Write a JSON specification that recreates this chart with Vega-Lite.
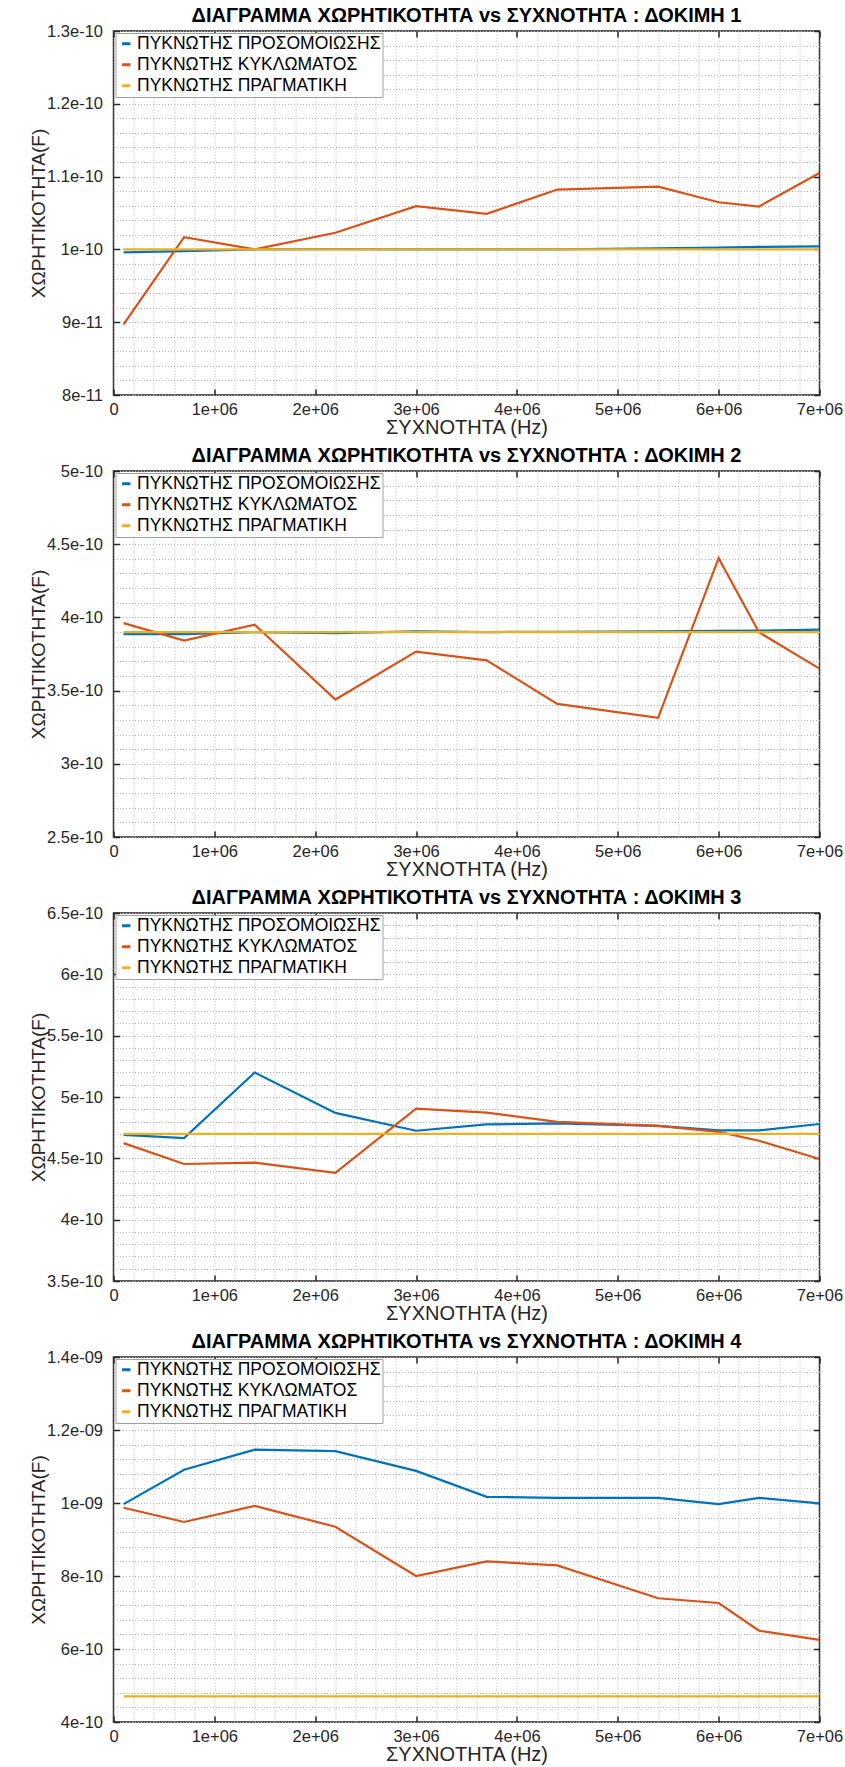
{
  "$schema": "https://vega.github.io/schema/vega-lite/v6.json",
  "padding": {"left": 28.5, "top": 4, "right": 5, "bottom": 1},
  "spacing": 5,
  "resolve": {"scale": {"color": "independent"}},
  "datasets": {
    "d1": [
      {"f": 100000, "c": 9.96e-11, "s": "ΠΥΚΝΩΤΗΣ ΠΡΟΣΟΜΟΙΩΣΗΣ"},
      {"f": 700000, "c": 9.975e-11, "s": "ΠΥΚΝΩΤΗΣ ΠΡΟΣΟΜΟΙΩΣΗΣ"},
      {"f": 1400000, "c": 1.0e-10, "s": "ΠΥΚΝΩΤΗΣ ΠΡΟΣΟΜΟΙΩΣΗΣ"},
      {"f": 2200000, "c": 1.0005e-10, "s": "ΠΥΚΝΩΤΗΣ ΠΡΟΣΟΜΟΙΩΣΗΣ"},
      {"f": 3000000, "c": 1.0e-10, "s": "ΠΥΚΝΩΤΗΣ ΠΡΟΣΟΜΟΙΩΣΗΣ"},
      {"f": 3700000, "c": 1.0e-10, "s": "ΠΥΚΝΩΤΗΣ ΠΡΟΣΟΜΟΙΩΣΗΣ"},
      {"f": 4400000, "c": 1.0e-10, "s": "ΠΥΚΝΩΤΗΣ ΠΡΟΣΟΜΟΙΩΣΗΣ"},
      {"f": 5400000, "c": 1.0015e-10, "s": "ΠΥΚΝΩΤΗΣ ΠΡΟΣΟΜΟΙΩΣΗΣ"},
      {"f": 6000000, "c": 1.0025e-10, "s": "ΠΥΚΝΩΤΗΣ ΠΡΟΣΟΜΟΙΩΣΗΣ"},
      {"f": 6400000, "c": 1.0035e-10, "s": "ΠΥΚΝΩΤΗΣ ΠΡΟΣΟΜΟΙΩΣΗΣ"},
      {"f": 7000000, "c": 1.0042e-10, "s": "ΠΥΚΝΩΤΗΣ ΠΡΟΣΟΜΟΙΩΣΗΣ"},
      {"f": 100000, "c": 8.97e-11, "s": "ΠΥΚΝΩΤΗΣ ΚΥΚΛΩΜΑΤΟΣ"},
      {"f": 700000, "c": 1.0169e-10, "s": "ΠΥΚΝΩΤΗΣ ΚΥΚΛΩΜΑΤΟΣ"},
      {"f": 1400000, "c": 1.0e-10, "s": "ΠΥΚΝΩΤΗΣ ΚΥΚΛΩΜΑΤΟΣ"},
      {"f": 2200000, "c": 1.0228e-10, "s": "ΠΥΚΝΩΤΗΣ ΚΥΚΛΩΜΑΤΟΣ"},
      {"f": 3000000, "c": 1.0594e-10, "s": "ΠΥΚΝΩΤΗΣ ΚΥΚΛΩΜΑΤΟΣ"},
      {"f": 3700000, "c": 1.0489e-10, "s": "ΠΥΚΝΩΤΗΣ ΚΥΚΛΩΜΑΤΟΣ"},
      {"f": 4400000, "c": 1.0822e-10, "s": "ΠΥΚΝΩΤΗΣ ΚΥΚΛΩΜΑΤΟΣ"},
      {"f": 5400000, "c": 1.0863e-10, "s": "ΠΥΚΝΩΤΗΣ ΚΥΚΛΩΜΑΤΟΣ"},
      {"f": 6000000, "c": 1.0648e-10, "s": "ΠΥΚΝΩΤΗΣ ΚΥΚΛΩΜΑΤΟΣ"},
      {"f": 6400000, "c": 1.0589e-10, "s": "ΠΥΚΝΩΤΗΣ ΚΥΚΛΩΜΑΤΟΣ"},
      {"f": 7000000, "c": 1.105e-10, "s": "ΠΥΚΝΩΤΗΣ ΚΥΚΛΩΜΑΤΟΣ"},
      {"f": 100000, "c": 1.0e-10, "s": "ΠΥΚΝΩΤΗΣ ΠΡΑΓΜΑΤΙΚΗ"},
      {"f": 700000, "c": 1.0e-10, "s": "ΠΥΚΝΩΤΗΣ ΠΡΑΓΜΑΤΙΚΗ"},
      {"f": 1400000, "c": 1.0e-10, "s": "ΠΥΚΝΩΤΗΣ ΠΡΑΓΜΑΤΙΚΗ"},
      {"f": 2200000, "c": 1.0e-10, "s": "ΠΥΚΝΩΤΗΣ ΠΡΑΓΜΑΤΙΚΗ"},
      {"f": 3000000, "c": 1.0e-10, "s": "ΠΥΚΝΩΤΗΣ ΠΡΑΓΜΑΤΙΚΗ"},
      {"f": 3700000, "c": 1.0e-10, "s": "ΠΥΚΝΩΤΗΣ ΠΡΑΓΜΑΤΙΚΗ"},
      {"f": 4400000, "c": 1.0e-10, "s": "ΠΥΚΝΩΤΗΣ ΠΡΑΓΜΑΤΙΚΗ"},
      {"f": 5400000, "c": 1.0e-10, "s": "ΠΥΚΝΩΤΗΣ ΠΡΑΓΜΑΤΙΚΗ"},
      {"f": 6000000, "c": 1.0e-10, "s": "ΠΥΚΝΩΤΗΣ ΠΡΑΓΜΑΤΙΚΗ"},
      {"f": 6400000, "c": 1.0e-10, "s": "ΠΥΚΝΩΤΗΣ ΠΡΑΓΜΑΤΙΚΗ"},
      {"f": 7000000, "c": 1.0e-10, "s": "ΠΥΚΝΩΤΗΣ ΠΡΑΓΜΑΤΙΚΗ"}
    ],
    "d2": [
      {"f": 100000, "c": 3.886e-10, "s": "ΠΥΚΝΩΤΗΣ ΠΡΟΣΟΜΟΙΩΣΗΣ"},
      {"f": 700000, "c": 3.886e-10, "s": "ΠΥΚΝΩΤΗΣ ΠΡΟΣΟΜΟΙΩΣΗΣ"},
      {"f": 1400000, "c": 3.9e-10, "s": "ΠΥΚΝΩΤΗΣ ΠΡΟΣΟΜΟΙΩΣΗΣ"},
      {"f": 2200000, "c": 3.893e-10, "s": "ΠΥΚΝΩΤΗΣ ΠΡΟΣΟΜΟΙΩΣΗΣ"},
      {"f": 3000000, "c": 3.905e-10, "s": "ΠΥΚΝΩΤΗΣ ΠΡΟΣΟΜΟΙΩΣΗΣ"},
      {"f": 3700000, "c": 3.9e-10, "s": "ΠΥΚΝΩΤΗΣ ΠΡΟΣΟΜΟΙΩΣΗΣ"},
      {"f": 4400000, "c": 3.902e-10, "s": "ΠΥΚΝΩΤΗΣ ΠΡΟΣΟΜΟΙΩΣΗΣ"},
      {"f": 5400000, "c": 3.905e-10, "s": "ΠΥΚΝΩΤΗΣ ΠΡΟΣΟΜΟΙΩΣΗΣ"},
      {"f": 6000000, "c": 3.908e-10, "s": "ΠΥΚΝΩΤΗΣ ΠΡΟΣΟΜΟΙΩΣΗΣ"},
      {"f": 6400000, "c": 3.91e-10, "s": "ΠΥΚΝΩΤΗΣ ΠΡΟΣΟΜΟΙΩΣΗΣ"},
      {"f": 7000000, "c": 3.916e-10, "s": "ΠΥΚΝΩΤΗΣ ΠΡΟΣΟΜΟΙΩΣΗΣ"},
      {"f": 100000, "c": 3.961e-10, "s": "ΠΥΚΝΩΤΗΣ ΚΥΚΛΩΜΑΤΟΣ"},
      {"f": 700000, "c": 3.841e-10, "s": "ΠΥΚΝΩΤΗΣ ΚΥΚΛΩΜΑΤΟΣ"},
      {"f": 1400000, "c": 3.95e-10, "s": "ΠΥΚΝΩΤΗΣ ΚΥΚΛΩΜΑΤΟΣ"},
      {"f": 2200000, "c": 3.439e-10, "s": "ΠΥΚΝΩΤΗΣ ΚΥΚΛΩΜΑΤΟΣ"},
      {"f": 3000000, "c": 3.766e-10, "s": "ΠΥΚΝΩΤΗΣ ΚΥΚΛΩΜΑΤΟΣ"},
      {"f": 3700000, "c": 3.707e-10, "s": "ΠΥΚΝΩΤΗΣ ΚΥΚΛΩΜΑΤΟΣ"},
      {"f": 4400000, "c": 3.409e-10, "s": "ΠΥΚΝΩΤΗΣ ΚΥΚΛΩΜΑΤΟΣ"},
      {"f": 5400000, "c": 3.314e-10, "s": "ΠΥΚΝΩΤΗΣ ΚΥΚΛΩΜΑΤΟΣ"},
      {"f": 6000000, "c": 4.405e-10, "s": "ΠΥΚΝΩΤΗΣ ΚΥΚΛΩΜΑΤΟΣ"},
      {"f": 6400000, "c": 3.898e-10, "s": "ΠΥΚΝΩΤΗΣ ΚΥΚΛΩΜΑΤΟΣ"},
      {"f": 7000000, "c": 3.65e-10, "s": "ΠΥΚΝΩΤΗΣ ΚΥΚΛΩΜΑΤΟΣ"},
      {"f": 100000, "c": 3.9e-10, "s": "ΠΥΚΝΩΤΗΣ ΠΡΑΓΜΑΤΙΚΗ"},
      {"f": 700000, "c": 3.9e-10, "s": "ΠΥΚΝΩΤΗΣ ΠΡΑΓΜΑΤΙΚΗ"},
      {"f": 1400000, "c": 3.9e-10, "s": "ΠΥΚΝΩΤΗΣ ΠΡΑΓΜΑΤΙΚΗ"},
      {"f": 2200000, "c": 3.9e-10, "s": "ΠΥΚΝΩΤΗΣ ΠΡΑΓΜΑΤΙΚΗ"},
      {"f": 3000000, "c": 3.9e-10, "s": "ΠΥΚΝΩΤΗΣ ΠΡΑΓΜΑΤΙΚΗ"},
      {"f": 3700000, "c": 3.9e-10, "s": "ΠΥΚΝΩΤΗΣ ΠΡΑΓΜΑΤΙΚΗ"},
      {"f": 4400000, "c": 3.9e-10, "s": "ΠΥΚΝΩΤΗΣ ΠΡΑΓΜΑΤΙΚΗ"},
      {"f": 5400000, "c": 3.9e-10, "s": "ΠΥΚΝΩΤΗΣ ΠΡΑΓΜΑΤΙΚΗ"},
      {"f": 6000000, "c": 3.9e-10, "s": "ΠΥΚΝΩΤΗΣ ΠΡΑΓΜΑΤΙΚΗ"},
      {"f": 6400000, "c": 3.9e-10, "s": "ΠΥΚΝΩΤΗΣ ΠΡΑΓΜΑΤΙΚΗ"},
      {"f": 7000000, "c": 3.9e-10, "s": "ΠΥΚΝΩΤΗΣ ΠΡΑΓΜΑΤΙΚΗ"}
    ],
    "d3": [
      {"f": 100000, "c": 4.692e-10, "s": "ΠΥΚΝΩΤΗΣ ΠΡΟΣΟΜΟΙΩΣΗΣ"},
      {"f": 700000, "c": 4.665e-10, "s": "ΠΥΚΝΩΤΗΣ ΠΡΟΣΟΜΟΙΩΣΗΣ"},
      {"f": 1400000, "c": 5.2e-10, "s": "ΠΥΚΝΩΤΗΣ ΠΡΟΣΟΜΟΙΩΣΗΣ"},
      {"f": 2200000, "c": 4.87e-10, "s": "ΠΥΚΝΩΤΗΣ ΠΡΟΣΟΜΟΙΩΣΗΣ"},
      {"f": 3000000, "c": 4.725e-10, "s": "ΠΥΚΝΩΤΗΣ ΠΡΟΣΟΜΟΙΩΣΗΣ"},
      {"f": 3700000, "c": 4.777e-10, "s": "ΠΥΚΝΩΤΗΣ ΠΡΟΣΟΜΟΙΩΣΗΣ"},
      {"f": 4400000, "c": 4.785e-10, "s": "ΠΥΚΝΩΤΗΣ ΠΡΟΣΟΜΟΙΩΣΗΣ"},
      {"f": 5400000, "c": 4.765e-10, "s": "ΠΥΚΝΩΤΗΣ ΠΡΟΣΟΜΟΙΩΣΗΣ"},
      {"f": 6000000, "c": 4.728e-10, "s": "ΠΥΚΝΩΤΗΣ ΠΡΟΣΟΜΟΙΩΣΗΣ"},
      {"f": 6400000, "c": 4.728e-10, "s": "ΠΥΚΝΩΤΗΣ ΠΡΟΣΟΜΟΙΩΣΗΣ"},
      {"f": 7000000, "c": 4.78e-10, "s": "ΠΥΚΝΩΤΗΣ ΠΡΟΣΟΜΟΙΩΣΗΣ"},
      {"f": 100000, "c": 4.624e-10, "s": "ΠΥΚΝΩΤΗΣ ΚΥΚΛΩΜΑΤΟΣ"},
      {"f": 700000, "c": 4.454e-10, "s": "ΠΥΚΝΩΤΗΣ ΚΥΚΛΩΜΑΤΟΣ"},
      {"f": 1400000, "c": 4.465e-10, "s": "ΠΥΚΝΩΤΗΣ ΚΥΚΛΩΜΑΤΟΣ"},
      {"f": 2200000, "c": 4.381e-10, "s": "ΠΥΚΝΩΤΗΣ ΚΥΚΛΩΜΑΤΟΣ"},
      {"f": 3000000, "c": 4.905e-10, "s": "ΠΥΚΝΩΤΗΣ ΚΥΚΛΩΜΑΤΟΣ"},
      {"f": 3700000, "c": 4.873e-10, "s": "ΠΥΚΝΩΤΗΣ ΚΥΚΛΩΜΑΤΟΣ"},
      {"f": 4400000, "c": 4.797e-10, "s": "ΠΥΚΝΩΤΗΣ ΚΥΚΛΩΜΑΤΟΣ"},
      {"f": 5400000, "c": 4.765e-10, "s": "ΠΥΚΝΩΤΗΣ ΚΥΚΛΩΜΑΤΟΣ"},
      {"f": 6000000, "c": 4.716e-10, "s": "ΠΥΚΝΩΤΗΣ ΚΥΚΛΩΜΑΤΟΣ"},
      {"f": 6400000, "c": 4.643e-10, "s": "ΠΥΚΝΩΤΗΣ ΚΥΚΛΩΜΑΤΟΣ"},
      {"f": 7000000, "c": 4.495e-10, "s": "ΠΥΚΝΩΤΗΣ ΚΥΚΛΩΜΑΤΟΣ"},
      {"f": 100000, "c": 4.7e-10, "s": "ΠΥΚΝΩΤΗΣ ΠΡΑΓΜΑΤΙΚΗ"},
      {"f": 700000, "c": 4.7e-10, "s": "ΠΥΚΝΩΤΗΣ ΠΡΑΓΜΑΤΙΚΗ"},
      {"f": 1400000, "c": 4.7e-10, "s": "ΠΥΚΝΩΤΗΣ ΠΡΑΓΜΑΤΙΚΗ"},
      {"f": 2200000, "c": 4.7e-10, "s": "ΠΥΚΝΩΤΗΣ ΠΡΑΓΜΑΤΙΚΗ"},
      {"f": 3000000, "c": 4.7e-10, "s": "ΠΥΚΝΩΤΗΣ ΠΡΑΓΜΑΤΙΚΗ"},
      {"f": 3700000, "c": 4.7e-10, "s": "ΠΥΚΝΩΤΗΣ ΠΡΑΓΜΑΤΙΚΗ"},
      {"f": 4400000, "c": 4.7e-10, "s": "ΠΥΚΝΩΤΗΣ ΠΡΑΓΜΑΤΙΚΗ"},
      {"f": 5400000, "c": 4.7e-10, "s": "ΠΥΚΝΩΤΗΣ ΠΡΑΓΜΑΤΙΚΗ"},
      {"f": 6000000, "c": 4.7e-10, "s": "ΠΥΚΝΩΤΗΣ ΠΡΑΓΜΑΤΙΚΗ"},
      {"f": 6400000, "c": 4.7e-10, "s": "ΠΥΚΝΩΤΗΣ ΠΡΑΓΜΑΤΙΚΗ"},
      {"f": 7000000, "c": 4.7e-10, "s": "ΠΥΚΝΩΤΗΣ ΠΡΑΓΜΑΤΙΚΗ"}
    ],
    "d4": [
      {"f": 100000, "c": 9.97e-10, "s": "ΠΥΚΝΩΤΗΣ ΠΡΟΣΟΜΟΙΩΣΗΣ"},
      {"f": 700000, "c": 1.091e-9, "s": "ΠΥΚΝΩΤΗΣ ΠΡΟΣΟΜΟΙΩΣΗΣ"},
      {"f": 1400000, "c": 1.146e-9, "s": "ΠΥΚΝΩΤΗΣ ΠΡΟΣΟΜΟΙΩΣΗΣ"},
      {"f": 2200000, "c": 1.142e-9, "s": "ΠΥΚΝΩΤΗΣ ΠΡΟΣΟΜΟΙΩΣΗΣ"},
      {"f": 3000000, "c": 1.088e-9, "s": "ΠΥΚΝΩΤΗΣ ΠΡΟΣΟΜΟΙΩΣΗΣ"},
      {"f": 3700000, "c": 1.017e-9, "s": "ΠΥΚΝΩΤΗΣ ΠΡΟΣΟΜΟΙΩΣΗΣ"},
      {"f": 4400000, "c": 1.014e-9, "s": "ΠΥΚΝΩΤΗΣ ΠΡΟΣΟΜΟΙΩΣΗΣ"},
      {"f": 5400000, "c": 1.014e-9, "s": "ΠΥΚΝΩΤΗΣ ΠΡΟΣΟΜΟΙΩΣΗΣ"},
      {"f": 6000000, "c": 9.97e-10, "s": "ΠΥΚΝΩΤΗΣ ΠΡΟΣΟΜΟΙΩΣΗΣ"},
      {"f": 6400000, "c": 1.014e-9, "s": "ΠΥΚΝΩΤΗΣ ΠΡΟΣΟΜΟΙΩΣΗΣ"},
      {"f": 7000000, "c": 9.99e-10, "s": "ΠΥΚΝΩΤΗΣ ΠΡΟΣΟΜΟΙΩΣΗΣ"},
      {"f": 100000, "c": 9.87e-10, "s": "ΠΥΚΝΩΤΗΣ ΚΥΚΛΩΜΑΤΟΣ"},
      {"f": 700000, "c": 9.48e-10, "s": "ΠΥΚΝΩΤΗΣ ΚΥΚΛΩΜΑΤΟΣ"},
      {"f": 1400000, "c": 9.92e-10, "s": "ΠΥΚΝΩΤΗΣ ΚΥΚΛΩΜΑΤΟΣ"},
      {"f": 2200000, "c": 9.35e-10, "s": "ΠΥΚΝΩΤΗΣ ΚΥΚΛΩΜΑΤΟΣ"},
      {"f": 3000000, "c": 8.0e-10, "s": "ΠΥΚΝΩΤΗΣ ΚΥΚΛΩΜΑΤΟΣ"},
      {"f": 3700000, "c": 8.4e-10, "s": "ΠΥΚΝΩΤΗΣ ΚΥΚΛΩΜΑΤΟΣ"},
      {"f": 4400000, "c": 8.29e-10, "s": "ΠΥΚΝΩΤΗΣ ΚΥΚΛΩΜΑΤΟΣ"},
      {"f": 5400000, "c": 7.39e-10, "s": "ΠΥΚΝΩΤΗΣ ΚΥΚΛΩΜΑΤΟΣ"},
      {"f": 6000000, "c": 7.26e-10, "s": "ΠΥΚΝΩΤΗΣ ΚΥΚΛΩΜΑΤΟΣ"},
      {"f": 6400000, "c": 6.5e-10, "s": "ΠΥΚΝΩΤΗΣ ΚΥΚΛΩΜΑΤΟΣ"},
      {"f": 7000000, "c": 6.25e-10, "s": "ΠΥΚΝΩΤΗΣ ΚΥΚΛΩΜΑΤΟΣ"},
      {"f": 100000, "c": 4.7e-10, "s": "ΠΥΚΝΩΤΗΣ ΠΡΑΓΜΑΤΙΚΗ"},
      {"f": 700000, "c": 4.7e-10, "s": "ΠΥΚΝΩΤΗΣ ΠΡΑΓΜΑΤΙΚΗ"},
      {"f": 1400000, "c": 4.7e-10, "s": "ΠΥΚΝΩΤΗΣ ΠΡΑΓΜΑΤΙΚΗ"},
      {"f": 2200000, "c": 4.7e-10, "s": "ΠΥΚΝΩΤΗΣ ΠΡΑΓΜΑΤΙΚΗ"},
      {"f": 3000000, "c": 4.7e-10, "s": "ΠΥΚΝΩΤΗΣ ΠΡΑΓΜΑΤΙΚΗ"},
      {"f": 3700000, "c": 4.7e-10, "s": "ΠΥΚΝΩΤΗΣ ΠΡΑΓΜΑΤΙΚΗ"},
      {"f": 4400000, "c": 4.7e-10, "s": "ΠΥΚΝΩΤΗΣ ΠΡΑΓΜΑΤΙΚΗ"},
      {"f": 5400000, "c": 4.7e-10, "s": "ΠΥΚΝΩΤΗΣ ΠΡΑΓΜΑΤΙΚΗ"},
      {"f": 6000000, "c": 4.7e-10, "s": "ΠΥΚΝΩΤΗΣ ΠΡΑΓΜΑΤΙΚΗ"},
      {"f": 6400000, "c": 4.7e-10, "s": "ΠΥΚΝΩΤΗΣ ΠΡΑΓΜΑΤΙΚΗ"},
      {"f": 7000000, "c": 4.7e-10, "s": "ΠΥΚΝΩΤΗΣ ΠΡΑΓΜΑΤΙΚΗ"}
    ]
  },
  "vconcat": [
    {
      "title": "ΔΙΑΓΡΑΜΜΑ ΧΩΡΗΤΙΚΟΤΗΤΑ vs ΣΥΧΝΟΤΗΤΑ : ΔΟΚΙΜΗ 1",
      "width": 706, "height": 364,
      "data": {"name": "d1"},
      "layer": [
        {
          "mark": {"type": "line", "strokeWidth": 2.2, "clip": true},
          "encoding": {
            "x": {"field": "f", "type": "quantitative", "scale": {"domain": [0, 7000000], "nice": false},
              "axis": {"orient": "bottom", "values": [0, 1000000, 2000000, 3000000, 4000000, 5000000, 6000000, 7000000],
                "labelExpr": "datum.value == 0 ? '0' : replace(format(datum.value, '~e'), 'e+6', 'e+06')",
                "title": "ΣΥΧΝΟΤΗΤΑ (Hz)"}},
            "y": {"field": "c", "type": "quantitative", "scale": {"domain": [8e-11, 1.3e-10], "nice": false, "zero": false},
              "axis": {"orient": "left", "values": [8e-11, 9e-11, 1e-10, 1.1e-10, 1.2e-10, 1.3e-10],
                "labelExpr": "format(datum.value, '~e')",
                "title": "ΧΩΡΗΤΙΚΟΤΗΤΑ(F)"}},
            "color": {"field": "s", "type": "nominal",
              "scale": {"domain": ["ΠΥΚΝΩΤΗΣ ΠΡΟΣΟΜΟΙΩΣΗΣ", "ΠΥΚΝΩΤΗΣ ΚΥΚΛΩΜΑΤΟΣ", "ΠΥΚΝΩΤΗΣ ΠΡΑΓΜΑΤΙΚΗ"], "range": ["#0072BD", "#D95319", "#EDB120"]},
              "legend": {"title": null}}
          }
        },
        {
          "mark": {"type": "line", "opacity": 0},
          "encoding": {
            "x": {"field": "f", "type": "quantitative",
              "axis": {"orient": "top", "labels": false, "title": null, "grid": true,
                "values": [0, 200000, 400000, 600000, 800000, 1000000, 1200000, 1400000, 1600000, 1800000, 2000000, 2200000, 2400000, 2600000, 2800000, 3000000, 3200000, 3400000, 3600000, 3800000, 4000000, 4200000, 4400000, 4600000, 4800000, 5000000, 5200000, 5400000, 5600000, 5800000, 6000000, 6200000, 6400000, 6600000, 6800000, 7000000],
                "tickOpacity": {"condition": {"test": "abs(datum.value / 1000000 - round(datum.value / 1000000)) < 0.001", "value": 1}, "value": 0}}},
            "y": {"field": "c", "type": "quantitative",
              "axis": {"orient": "right", "labels": false, "title": null, "grid": true,
                "values": [8e-11, 8.2e-11, 8.4e-11, 8.6e-11, 8.8e-11, 9e-11, 9.2e-11, 9.4e-11, 9.6e-11, 9.8e-11, 1e-10, 1.02e-10, 1.04e-10, 1.06e-10, 1.08e-10, 1.1e-10, 1.12e-10, 1.14e-10, 1.16e-10, 1.18e-10, 1.2e-10, 1.22e-10, 1.24e-10, 1.26e-10, 1.28e-10, 1.3e-10],
                "tickOpacity": {"condition": {"test": "abs(datum.value / 1e-11 - round(datum.value / 1e-11)) < 0.001", "value": 1}, "value": 0}}}
          }
        }
      ],
      "resolve": {"axis": {"x": "independent", "y": "independent"}}
    },
    {
      "title": "ΔΙΑΓΡΑΜΜΑ ΧΩΡΗΤΙΚΟΤΗΤΑ vs ΣΥΧΝΟΤΗΤΑ : ΔΟΚΙΜΗ 2",
      "width": 706, "height": 366,
      "data": {"name": "d2"},
      "layer": [
        {
          "mark": {"type": "line", "strokeWidth": 2.2, "clip": true},
          "encoding": {
            "x": {"field": "f", "type": "quantitative", "scale": {"domain": [0, 7000000], "nice": false},
              "axis": {"orient": "bottom", "values": [0, 1000000, 2000000, 3000000, 4000000, 5000000, 6000000, 7000000],
                "labelExpr": "datum.value == 0 ? '0' : replace(format(datum.value, '~e'), 'e+6', 'e+06')",
                "title": "ΣΥΧΝΟΤΗΤΑ (Hz)"}},
            "y": {"field": "c", "type": "quantitative", "scale": {"domain": [2.5e-10, 5e-10], "nice": false, "zero": false},
              "axis": {"orient": "left", "values": [2.5e-10, 3e-10, 3.5e-10, 4e-10, 4.5e-10, 5e-10],
                "labelExpr": "format(datum.value, '~e')",
                "title": "ΧΩΡΗΤΙΚΟΤΗΤΑ(F)"}},
            "color": {"field": "s", "type": "nominal",
              "scale": {"domain": ["ΠΥΚΝΩΤΗΣ ΠΡΟΣΟΜΟΙΩΣΗΣ", "ΠΥΚΝΩΤΗΣ ΚΥΚΛΩΜΑΤΟΣ", "ΠΥΚΝΩΤΗΣ ΠΡΑΓΜΑΤΙΚΗ"], "range": ["#0072BD", "#D95319", "#EDB120"]},
              "legend": {"title": null}}
          }
        },
        {
          "mark": {"type": "line", "opacity": 0},
          "encoding": {
            "x": {"field": "f", "type": "quantitative",
              "axis": {"orient": "top", "labels": false, "title": null, "grid": true,
                "values": [0, 200000, 400000, 600000, 800000, 1000000, 1200000, 1400000, 1600000, 1800000, 2000000, 2200000, 2400000, 2600000, 2800000, 3000000, 3200000, 3400000, 3600000, 3800000, 4000000, 4200000, 4400000, 4600000, 4800000, 5000000, 5200000, 5400000, 5600000, 5800000, 6000000, 6200000, 6400000, 6600000, 6800000, 7000000],
                "tickOpacity": {"condition": {"test": "abs(datum.value / 1000000 - round(datum.value / 1000000)) < 0.001", "value": 1}, "value": 0}}},
            "y": {"field": "c", "type": "quantitative",
              "axis": {"orient": "right", "labels": false, "title": null, "grid": true,
                "values": [2.5e-10, 2.6e-10, 2.7e-10, 2.8e-10, 2.9e-10, 3e-10, 3.1e-10, 3.2e-10, 3.3e-10, 3.4e-10, 3.5e-10, 3.6e-10, 3.7e-10, 3.8e-10, 3.9e-10, 4e-10, 4.1e-10, 4.2e-10, 4.3e-10, 4.4e-10, 4.5e-10, 4.6e-10, 4.7e-10, 4.8e-10, 4.9e-10, 5e-10],
                "tickOpacity": {"condition": {"test": "abs(datum.value / 5e-11 - round(datum.value / 5e-11)) < 0.001", "value": 1}, "value": 0}}}
          }
        }
      ],
      "resolve": {"axis": {"x": "independent", "y": "independent"}}
    },
    {
      "title": "ΔΙΑΓΡΑΜΜΑ ΧΩΡΗΤΙΚΟΤΗΤΑ vs ΣΥΧΝΟΤΗΤΑ : ΔΟΚΙΜΗ 3",
      "width": 706, "height": 368,
      "data": {"name": "d3"},
      "layer": [
        {
          "mark": {"type": "line", "strokeWidth": 2.2, "clip": true},
          "encoding": {
            "x": {"field": "f", "type": "quantitative", "scale": {"domain": [0, 7000000], "nice": false},
              "axis": {"orient": "bottom", "values": [0, 1000000, 2000000, 3000000, 4000000, 5000000, 6000000, 7000000],
                "labelExpr": "datum.value == 0 ? '0' : replace(format(datum.value, '~e'), 'e+6', 'e+06')",
                "title": "ΣΥΧΝΟΤΗΤΑ (Hz)"}},
            "y": {"field": "c", "type": "quantitative", "scale": {"domain": [3.5e-10, 6.5e-10], "nice": false, "zero": false},
              "axis": {"orient": "left", "values": [3.5e-10, 4e-10, 4.5e-10, 5e-10, 5.5e-10, 6e-10, 6.5e-10],
                "labelExpr": "format(datum.value, '~e')",
                "title": "ΧΩΡΗΤΙΚΟΤΗΤΑ(F)"}},
            "color": {"field": "s", "type": "nominal",
              "scale": {"domain": ["ΠΥΚΝΩΤΗΣ ΠΡΟΣΟΜΟΙΩΣΗΣ", "ΠΥΚΝΩΤΗΣ ΚΥΚΛΩΜΑΤΟΣ", "ΠΥΚΝΩΤΗΣ ΠΡΑΓΜΑΤΙΚΗ"], "range": ["#0072BD", "#D95319", "#EDB120"]},
              "legend": {"title": null}}
          }
        },
        {
          "mark": {"type": "line", "opacity": 0},
          "encoding": {
            "x": {"field": "f", "type": "quantitative",
              "axis": {"orient": "top", "labels": false, "title": null, "grid": true,
                "values": [0, 200000, 400000, 600000, 800000, 1000000, 1200000, 1400000, 1600000, 1800000, 2000000, 2200000, 2400000, 2600000, 2800000, 3000000, 3200000, 3400000, 3600000, 3800000, 4000000, 4200000, 4400000, 4600000, 4800000, 5000000, 5200000, 5400000, 5600000, 5800000, 6000000, 6200000, 6400000, 6600000, 6800000, 7000000],
                "tickOpacity": {"condition": {"test": "abs(datum.value / 1000000 - round(datum.value / 1000000)) < 0.001", "value": 1}, "value": 0}}},
            "y": {"field": "c", "type": "quantitative",
              "axis": {"orient": "right", "labels": false, "title": null, "grid": true,
                "values": [3.5e-10, 3.6e-10, 3.7e-10, 3.8e-10, 3.9e-10, 4e-10, 4.1e-10, 4.2e-10, 4.3e-10, 4.4e-10, 4.5e-10, 4.6e-10, 4.7e-10, 4.8e-10, 4.9e-10, 5e-10, 5.1e-10, 5.2e-10, 5.3e-10, 5.4e-10, 5.5e-10, 5.6e-10, 5.7e-10, 5.8e-10, 5.9e-10, 6e-10, 6.1e-10, 6.2e-10, 6.3e-10, 6.4e-10, 6.5e-10],
                "tickOpacity": {"condition": {"test": "abs(datum.value / 5e-11 - round(datum.value / 5e-11)) < 0.001", "value": 1}, "value": 0}}}
          }
        }
      ],
      "resolve": {"axis": {"x": "independent", "y": "independent"}}
    },
    {
      "title": "ΔΙΑΓΡΑΜΜΑ ΧΩΡΗΤΙΚΟΤΗΤΑ vs ΣΥΧΝΟΤΗΤΑ : ΔΟΚΙΜΗ 4",
      "width": 706, "height": 365,
      "data": {"name": "d4"},
      "layer": [
        {
          "mark": {"type": "line", "strokeWidth": 2.2, "clip": true},
          "encoding": {
            "x": {"field": "f", "type": "quantitative", "scale": {"domain": [0, 7000000], "nice": false},
              "axis": {"orient": "bottom", "values": [0, 1000000, 2000000, 3000000, 4000000, 5000000, 6000000, 7000000],
                "labelExpr": "datum.value == 0 ? '0' : replace(format(datum.value, '~e'), 'e+6', 'e+06')",
                "title": "ΣΥΧΝΟΤΗΤΑ (Hz)"}},
            "y": {"field": "c", "type": "quantitative", "scale": {"domain": [4e-10, 1.4e-9], "nice": false, "zero": false},
              "axis": {"orient": "left", "values": [4e-10, 6e-10, 8e-10, 1e-9, 1.2e-9, 1.4e-9],
                "labelExpr": "replace(format(datum.value, '~e'), 'e-9', 'e-09')",
                "title": "ΧΩΡΗΤΙΚΟΤΗΤΑ(F)"}},
            "color": {"field": "s", "type": "nominal",
              "scale": {"domain": ["ΠΥΚΝΩΤΗΣ ΠΡΟΣΟΜΟΙΩΣΗΣ", "ΠΥΚΝΩΤΗΣ ΚΥΚΛΩΜΑΤΟΣ", "ΠΥΚΝΩΤΗΣ ΠΡΑΓΜΑΤΙΚΗ"], "range": ["#0072BD", "#D95319", "#EDB120"]},
              "legend": {"title": null}}
          }
        },
        {
          "mark": {"type": "line", "opacity": 0},
          "encoding": {
            "x": {"field": "f", "type": "quantitative",
              "axis": {"orient": "top", "labels": false, "title": null, "grid": true,
                "values": [0, 200000, 400000, 600000, 800000, 1000000, 1200000, 1400000, 1600000, 1800000, 2000000, 2200000, 2400000, 2600000, 2800000, 3000000, 3200000, 3400000, 3600000, 3800000, 4000000, 4200000, 4400000, 4600000, 4800000, 5000000, 5200000, 5400000, 5600000, 5800000, 6000000, 6200000, 6400000, 6600000, 6800000, 7000000],
                "tickOpacity": {"condition": {"test": "abs(datum.value / 1000000 - round(datum.value / 1000000)) < 0.001", "value": 1}, "value": 0}}},
            "y": {"field": "c", "type": "quantitative",
              "axis": {"orient": "right", "labels": false, "title": null, "grid": true,
                "values": [4e-10, 4.4e-10, 4.8e-10, 5.2e-10, 5.6e-10, 6e-10, 6.4e-10, 6.8e-10, 7.2e-10, 7.6e-10, 8e-10, 8.4e-10, 8.8e-10, 9.2e-10, 9.6e-10, 1e-9, 1.04e-9, 1.08e-9, 1.12e-9, 1.16e-9, 1.2e-9, 1.24e-9, 1.28e-9, 1.32e-9, 1.36e-9, 1.4e-9],
                "tickOpacity": {"condition": {"test": "abs(datum.value / 2e-10 - round(datum.value / 2e-10)) < 0.001", "value": 1}, "value": 0}}}
          }
        }
      ],
      "resolve": {"axis": {"x": "independent", "y": "independent"}}
    }
  ],
  "config": {
    "font": "Liberation Sans",
    "view": {"stroke": "#262626", "strokeWidth": 1.5},
    "axis": {
      "domain": false, "grid": false,
      "labelFont": "Liberation Sans", "labelFontSize": 16.5, "labelColor": "#262626",
      "labelFlush": false, "labelOverlap": false, "labelBound": false,
      "titleFont": "Liberation Sans", "titleFontSize": 20, "titleFontWeight": "normal", "titleColor": "#262626",
      "tickColor": "#262626", "tickWidth": 1.5, "tickSize": -6,
      "labelPadding": 12, "titlePadding": 0,
      "gridColor": "#b0b0b0", "gridDash": [1, 2], "gridWidth": 1
    },
    "axisY": {"labelPadding": 17, "titlePadding": -2, "titleFontSize": 19},
    "title": {"fontSize": 20, "fontWeight": "bold", "color": "#000000", "offset": -2.5, "anchor": "middle", "font": "Liberation Sans"},
    "legend": {
      "orient": "top-left", "offset": 2,
      "symbolType": "stroke", "symbolStrokeWidth": 3, "symbolSize": 70,
      "labelFont": "Liberation Sans", "labelFontSize": 17.5, "labelColor": "#000000", "labelOffset": 2, "labelLimit": 400,
      "fillColor": "#ffffff", "strokeColor": "#a0a0a0", "padding": 2, "rowPadding": 2, "symbolOffset": 0
    }
  }
}
